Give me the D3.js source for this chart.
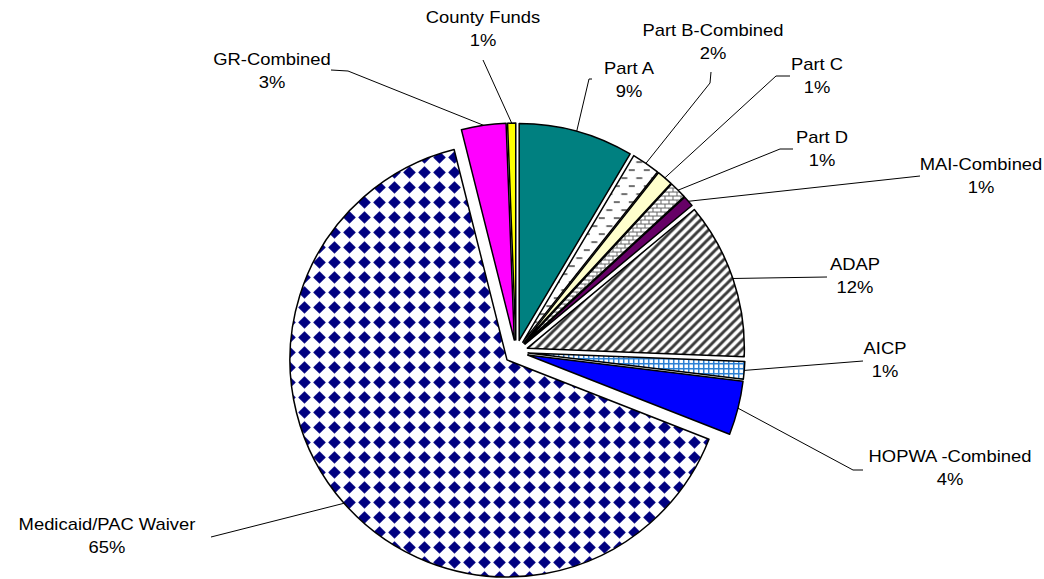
<!DOCTYPE html>
<html>
<head>
<meta charset="utf-8">
<script src="https://cdn.jsdelivr.net/npm/d3@7"></script>
<style>
body { margin: 0; background: #fff; }
text { font-family: "Liberation Sans", Arial, sans-serif; font-size: 16px; fill: #000; }
</style>
</head>
<body>
<script>
// slices, clockwise from 12 o'clock
var categories = ["Part A", "Part B-Combined", "Part C", "Part D", "MAI-Combined", "ADAP", "AICP",
    "HOPWA -Combined", "Medicaid/PAC Waiver", "GR-Combined", "County Funds"];
var values = [8.5, 2.1, 1.2, 1.3, 0.8, 11.6, 1.3, 4.0, 64.8, 3.3, 0.6];

// look of each slice
var fills = ["#008080", "url(#dashes)", "#ffffcc", "url(#bricks)", "#660066", "url(#stripes)",
    "url(#grid)", "#0000ff", "url(#diamonds)", "#ff00ff", "#ffff00"];

// label centres (first line) and where the leader leaves the label
var labelPos = [[629, 74], [713, 36], [817, 70], [822, 143], [981, 170], [855, 270], [885, 354],
    [950, 462], [107, 530], [272, 65], [483, 23]];
var leaderStart = [
    [[592, 79], [589, 79]],
    [[711, 72], [710, 83]],
    [[790, 76], [776, 76]],
    [[793, 149], [780, 149]],
    [[920, 176]],
    [[827, 277]],
    [[863, 361]],
    [[863, 470], [853, 470]],
    [[211, 537]],
    [[331, 70], [348, 71]],
    [[483, 60]]
];

var width = 1044, height = 579;
var cx = 516, cy = 352, radius = 217, explode = 12;
var svg, pct;

function defs() {
    var d = svg.append("defs");

    var p = d.append("pattern").attr("id", "diamonds").attr("patternUnits", "userSpaceOnUse")
        .attr("width", 15).attr("height", 15);
    p.append("rect").attr("width", 15).attr("height", 15).attr("fill", "#fff");
    p.append("path").attr("d", "M7.5,1.2L13.8,7.5L7.5,13.8L1.2,7.5Z").attr("fill", "#000080");

    p = d.append("pattern").attr("id", "stripes").attr("patternUnits", "userSpaceOnUse")
        .attr("width", 9).attr("height", 9);
    p.append("rect").attr("width", 9).attr("height", 9).attr("fill", "#fff");
    p.append("path").attr("d", "M-1,10L10,-1M-4,4L4,-4M5,13L13,5")
        .attr("stroke", "#3a3a3a").attr("stroke-width", 3);

    p = d.append("pattern").attr("id", "dashes").attr("patternUnits", "userSpaceOnUse")
        .attr("width", 15).attr("height", 16);
    p.append("rect").attr("width", 15).attr("height", 16).attr("fill", "#fff");
    p.append("rect").attr("x", 1).attr("y", 3).attr("width", 6).attr("height", 2).attr("fill", "#707070");
    p.append("rect").attr("x", 8.5).attr("y", 11).attr("width", 6).attr("height", 2).attr("fill", "#707070");

    p = d.append("pattern").attr("id", "bricks").attr("patternUnits", "userSpaceOnUse")
        .attr("width", 8).attr("height", 8);
    p.append("rect").attr("width", 8).attr("height", 8).attr("fill", "#fff");
    p.append("path").attr("d", "M0,0.5H8M0,4.5H8M0.5,0V4.5M4.5,4.5V8")
        .attr("stroke", "#666").attr("stroke-width", 1).attr("fill", "none");

    p = d.append("pattern").attr("id", "grid").attr("patternUnits", "userSpaceOnUse")
        .attr("width", 5).attr("height", 5);
    p.append("rect").attr("width", 5).attr("height", 5).attr("fill", "#fff");
    p.append("path").attr("d", "M0,0.75H5M0.75,0V5")
        .attr("stroke", "#2a7fd4").attr("stroke-width", 1.5).attr("fill", "none");
}

function offset(a) {
    var m = (a.startAngle + a.endAngle) / 2;
    return [cx + Math.sin(m) * explode, cy - Math.cos(m) * explode];
}

function draw() {
    svg = d3.select("body").append("svg").attr("width", width).attr("height", height);
    defs();

    var total = d3.sum(values);
    pct = d3.format(".0%");
    var arcs = d3.pie().sort(null).value(function (d) { return d; })(values);
    var arc = d3.arc().innerRadius(0).outerRadius(radius);

    svg.selectAll("path.slice").data(arcs).enter().append("path")
        .attr("class", "slice")
        .attr("transform", function (d) { return "translate(" + offset(d) + ")"; })
        .attr("d", arc)
        .attr("fill", function (d, i) { return fills[i]; })
        .attr("stroke", "#000").attr("stroke-width", 1.5).attr("stroke-linejoin", "round");

    // leader lines
    var line = d3.line();
    svg.selectAll("path.leader").data(arcs).enter().append("path")
        .attr("class", "leader")
        .attr("d", function (d, i) {
            var o = offset(d), m = (d.startAngle + d.endAngle) / 2;
            var pts = leaderStart[i].concat([[o[0] + Math.sin(m) * radius, o[1] - Math.cos(m) * radius]]);
            return line(pts);
        })
        .attr("fill", "none").attr("stroke", "#000").attr("stroke-width", 1);

    // the source text is a bit wider than Arial, so stretch it sideways
    var labels = svg.selectAll("text.label").data(arcs).enter().append("text")
        .attr("class", "label")
        .attr("text-anchor", "middle")
        .attr("transform", function (d, i) {
            return "translate(" + labelPos[i] + ") scale(1.15,1)";
        });
    labels.append("tspan")
        .attr("x", 0).attr("y", 0)
        .text(function (d, i) { return categories[i]; });
    labels.append("tspan")
        .attr("x", 0).attr("y", 23)
        .text(function (d) { return pct(d.value / total); });
}

draw();
</script>
</body>
</html>
